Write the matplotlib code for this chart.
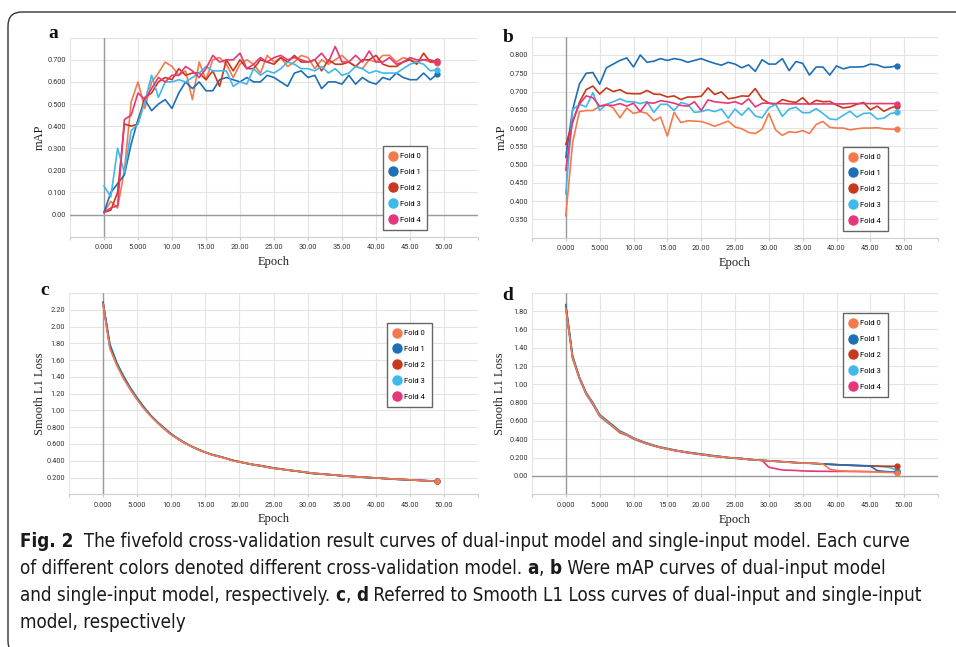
import matplotlib
matplotlib.use("Agg")
import matplotlib.pyplot as plt
import numpy as np
from matplotlib.lines import Line2D
from matplotlib.path import Path
from matplotlib.patches import PathPatch
from matplotlib.transforms import IdentityTransform
from matplotlib import font_manager
from matplotlib.font_manager import FontProperties
from matplotlib.ticker import FuncFormatter, MultipleLocator

W, H = 956, 647

epochs = list(range(50))
fold_names = ["Fold 0", "Fold 1", "Fold 2", "Fold 3", "Fold 4"]
fold_colors = ["#f47a4c", "#1f6fb5", "#c8391b", "#3fb8ea", "#e6377a"]

# panel a: mAP, dual-input model
a_f0 = [0.01, 0.06, 0.03, 0.20, 0.51, 0.60, 0.48, 0.60, 0.64, 0.69, 0.67, 0.63, 0.65, 0.52, 0.69,
        0.61, 0.70, 0.71, 0.68, 0.62, 0.68, 0.70, 0.68, 0.64, 0.72, 0.69, 0.71, 0.67, 0.69, 0.72,
        0.71, 0.66, 0.70, 0.68, 0.70, 0.72, 0.69, 0.67, 0.66, 0.70, 0.69, 0.72, 0.72, 0.69, 0.71,
        0.70, 0.69, 0.70, 0.69, 0.685]
a_f1 = [0.01, 0.10, 0.14, 0.18, 0.32, 0.43, 0.52, 0.47, 0.50, 0.52, 0.48, 0.55, 0.60, 0.57, 0.60,
        0.56, 0.56, 0.61, 0.62, 0.61, 0.60, 0.62, 0.60, 0.60, 0.63, 0.62, 0.60, 0.58, 0.64, 0.65,
        0.62, 0.63, 0.57, 0.60, 0.60, 0.59, 0.63, 0.59, 0.62, 0.60, 0.59, 0.62, 0.61, 0.64, 0.62,
        0.61, 0.61, 0.64, 0.61, 0.635]
a_f2 = [0.01, 0.02, 0.10, 0.41, 0.40, 0.41, 0.53, 0.55, 0.60, 0.62, 0.61, 0.66, 0.63, 0.64, 0.64,
        0.61, 0.65, 0.58, 0.70, 0.65, 0.70, 0.66, 0.66, 0.70, 0.69, 0.68, 0.71, 0.69, 0.72, 0.69,
        0.69, 0.70, 0.65, 0.70, 0.68, 0.68, 0.69, 0.67, 0.70, 0.70, 0.72, 0.68, 0.67, 0.67, 0.69,
        0.70, 0.68, 0.73, 0.69, 0.695]
a_f3 = [0.13, 0.08, 0.30, 0.19, 0.38, 0.41, 0.51, 0.63, 0.53, 0.60, 0.60, 0.61, 0.60, 0.62, 0.64,
        0.67, 0.65, 0.65, 0.65, 0.58, 0.60, 0.59, 0.66, 0.63, 0.65, 0.64, 0.66, 0.69, 0.68, 0.66,
        0.66, 0.65, 0.67, 0.64, 0.66, 0.63, 0.64, 0.67, 0.66, 0.64, 0.65, 0.64, 0.64, 0.64, 0.66,
        0.68, 0.69, 0.68, 0.65, 0.655]
a_f4 = [0.01, 0.03, 0.04, 0.43, 0.45, 0.55, 0.52, 0.57, 0.62, 0.60, 0.63, 0.63, 0.67, 0.65, 0.62,
        0.66, 0.72, 0.69, 0.70, 0.70, 0.73, 0.66, 0.68, 0.71, 0.69, 0.71, 0.72, 0.70, 0.71, 0.70,
        0.69, 0.70, 0.73, 0.69, 0.76, 0.69, 0.69, 0.72, 0.69, 0.74, 0.69, 0.69, 0.71, 0.68, 0.69,
        0.71, 0.70, 0.70, 0.70, 0.69]

# panel b: mAP, single-input model
b_f0 = [0.36, 0.56, 0.645, 0.648, 0.648, 0.66, 0.665, 0.655, 0.628, 0.655, 0.64, 0.645, 0.64, 0.62,
        0.63, 0.578, 0.643, 0.615, 0.62, 0.619, 0.618, 0.612, 0.605, 0.612, 0.619, 0.603, 0.598,
        0.588, 0.585, 0.597, 0.64, 0.595, 0.58, 0.59, 0.588, 0.593, 0.585, 0.61, 0.618, 0.602, 0.60,
        0.60, 0.595, 0.598, 0.60, 0.60, 0.601, 0.598, 0.597, 0.597]
b_f1 = [0.52, 0.65, 0.72, 0.75, 0.752, 0.72, 0.765, 0.775, 0.785, 0.792, 0.767, 0.80, 0.78, 0.783,
        0.79, 0.785, 0.79, 0.787, 0.78, 0.785, 0.79, 0.783, 0.777, 0.772, 0.78, 0.775, 0.765, 0.773,
        0.755, 0.787, 0.775, 0.775, 0.79, 0.757, 0.782, 0.777, 0.745, 0.767, 0.767, 0.745, 0.77,
        0.762, 0.767, 0.767, 0.768, 0.775, 0.773, 0.766, 0.767, 0.771]
b_f2 = [0.555, 0.615, 0.67, 0.705, 0.715, 0.693, 0.71, 0.70, 0.705, 0.695, 0.694, 0.694, 0.703,
        0.693, 0.692, 0.685, 0.688, 0.678, 0.685, 0.685, 0.687, 0.71, 0.692, 0.699, 0.68, 0.683,
        0.688, 0.687, 0.708, 0.68, 0.668, 0.665, 0.678, 0.673, 0.67, 0.683, 0.665, 0.676, 0.672,
        0.673, 0.663, 0.655, 0.658, 0.665, 0.67, 0.65, 0.66, 0.646, 0.655, 0.661]
b_f3 = [0.42, 0.65, 0.665, 0.658, 0.697, 0.648, 0.665, 0.672, 0.68, 0.672, 0.672, 0.667, 0.672,
        0.643, 0.665, 0.665, 0.648, 0.67, 0.665, 0.643, 0.645, 0.65, 0.645, 0.652, 0.627, 0.652,
        0.635, 0.655, 0.633, 0.628, 0.655, 0.665, 0.632, 0.652, 0.657, 0.642, 0.642, 0.653, 0.64,
        0.625, 0.623, 0.635, 0.646, 0.63, 0.64, 0.641, 0.625, 0.627, 0.64, 0.643]
b_f4 = [0.485, 0.62, 0.665, 0.688, 0.683, 0.66, 0.663, 0.662, 0.667, 0.66, 0.668, 0.645, 0.67,
        0.668, 0.675, 0.672, 0.668, 0.662, 0.66, 0.672, 0.648, 0.677, 0.672, 0.67, 0.668, 0.672,
        0.665, 0.68, 0.658, 0.668, 0.668, 0.667, 0.667, 0.666, 0.666, 0.666, 0.666, 0.666, 0.666,
        0.666, 0.666, 0.666, 0.667, 0.667, 0.667, 0.667, 0.667, 0.667, 0.667, 0.667]

# panel c: Smooth L1 loss, dual-input model
c_f0 = [2.27, 1.74, 1.54, 1.38, 1.25, 1.13, 1.02, 0.93, 0.85, 0.78, 0.71, 0.66, 0.61, 0.57, 0.53,
        0.50, 0.47, 0.45, 0.43, 0.40, 0.385, 0.37, 0.355, 0.34, 0.325, 0.31, 0.30, 0.29, 0.28, 0.27,
        0.26, 0.25, 0.243, 0.236, 0.229, 0.222, 0.216, 0.21, 0.205, 0.20, 0.195, 0.19, 0.185, 0.18,
        0.176, 0.172, 0.168, 0.164, 0.16, 0.155]
c_f1 = [2.29, 1.79, 1.57, 1.41, 1.27, 1.15, 1.04, 0.94, 0.86, 0.79, 0.72, 0.665, 0.615, 0.57, 0.535,
        0.50, 0.475, 0.455, 0.43, 0.405, 0.385, 0.37, 0.35, 0.34, 0.325, 0.31, 0.305, 0.29, 0.28,
        0.27, 0.255, 0.245, 0.24, 0.235, 0.228, 0.22, 0.215, 0.21, 0.204, 0.198, 0.194, 0.19, 0.184,
        0.178, 0.175, 0.171, 0.167, 0.163, 0.159, 0.155]
c_f2 = [2.28, 1.76, 1.55, 1.39, 1.26, 1.14, 1.03, 0.935, 0.855, 0.785, 0.715, 0.66, 0.61, 0.57,
        0.53, 0.50, 0.47, 0.45, 0.43, 0.405, 0.39, 0.37, 0.355, 0.345, 0.33, 0.315, 0.30, 0.29, 0.28,
        0.27, 0.26, 0.25, 0.244, 0.237, 0.23, 0.223, 0.217, 0.211, 0.205, 0.20, 0.195, 0.19, 0.185,
        0.181, 0.177, 0.172, 0.168, 0.164, 0.16, 0.156]
c_f3 = [2.28, 1.77, 1.56, 1.40, 1.26, 1.14, 1.03, 0.94, 0.855, 0.78, 0.715, 0.66, 0.612, 0.572,
        0.535, 0.502, 0.472, 0.452, 0.43, 0.405, 0.387, 0.37, 0.355, 0.342, 0.327, 0.312, 0.302,
        0.29, 0.281, 0.27, 0.258, 0.248, 0.242, 0.236, 0.229, 0.222, 0.216, 0.21, 0.205, 0.199,
        0.195, 0.19, 0.185, 0.18, 0.176, 0.172, 0.168, 0.164, 0.16, 0.156]
c_f4 = [2.27, 1.75, 1.55, 1.39, 1.25, 1.13, 1.03, 0.935, 0.85, 0.78, 0.71, 0.66, 0.61, 0.57, 0.532,
        0.50, 0.47, 0.45, 0.428, 0.403, 0.385, 0.37, 0.355, 0.341, 0.326, 0.311, 0.301, 0.29, 0.28,
        0.27, 0.259, 0.249, 0.243, 0.236, 0.229, 0.222, 0.216, 0.21, 0.205, 0.2, 0.195, 0.19, 0.185,
        0.18, 0.176, 0.172, 0.168, 0.164, 0.16, 0.155]

# panel d: Smooth L1 loss, single-input model
d_f0 = [1.83, 1.29, 1.07, 0.90, 0.79, 0.66, 0.60, 0.54, 0.48, 0.45, 0.41, 0.38, 0.355, 0.33, 0.31,
        0.295, 0.28, 0.27, 0.255, 0.245, 0.235, 0.225, 0.215, 0.21, 0.20, 0.195, 0.19, 0.18, 0.175,
        0.17, 0.165, 0.16, 0.155, 0.15, 0.145, 0.14, 0.14, 0.135, 0.13, 0.075, 0.06, 0.055, 0.05,
        0.05, 0.048, 0.046, 0.044, 0.04, 0.038, 0.035]
d_f1 = [1.87, 1.31, 1.08, 0.91, 0.80, 0.67, 0.61, 0.55, 0.49, 0.455, 0.415, 0.385, 0.36, 0.335,
        0.315, 0.30, 0.285, 0.27, 0.26, 0.25, 0.24, 0.23, 0.22, 0.21, 0.20, 0.195, 0.19, 0.185, 0.175,
        0.17, 0.165, 0.162, 0.157, 0.152, 0.147, 0.143, 0.14, 0.136, 0.132, 0.128, 0.124, 0.12,
        0.117, 0.114, 0.111, 0.108, 0.06, 0.05, 0.045, 0.042]
d_f2 = [1.84, 1.29, 1.07, 0.90, 0.79, 0.66, 0.60, 0.54, 0.48, 0.45, 0.41, 0.38, 0.355, 0.33, 0.31,
        0.295, 0.28, 0.27, 0.255, 0.245, 0.235, 0.225, 0.215, 0.21, 0.20, 0.195, 0.19, 0.18, 0.175,
        0.17, 0.165, 0.16, 0.155, 0.15, 0.145, 0.14, 0.14, 0.135, 0.13, 0.127, 0.123, 0.12, 0.117,
        0.115, 0.113, 0.111, 0.109, 0.107, 0.106, 0.105]
d_f3 = [1.85, 1.28, 1.06, 0.89, 0.78, 0.65, 0.59, 0.535, 0.475, 0.445, 0.405, 0.375, 0.35, 0.328,
        0.308, 0.293, 0.278, 0.268, 0.253, 0.243, 0.233, 0.223, 0.213, 0.208, 0.198, 0.193, 0.188,
        0.18, 0.175, 0.17, 0.165, 0.16, 0.155, 0.15, 0.145, 0.14, 0.138, 0.134, 0.13, 0.126, 0.122,
        0.119, 0.116, 0.113, 0.11, 0.108, 0.105, 0.10, 0.09, 0.06]
d_f4 = [1.84, 1.30, 1.07, 0.90, 0.78, 0.66, 0.595, 0.535, 0.47, 0.445, 0.405, 0.375, 0.35, 0.33,
        0.31, 0.295, 0.28, 0.265, 0.255, 0.245, 0.235, 0.225, 0.215, 0.21, 0.20, 0.195, 0.19, 0.18,
        0.175, 0.17, 0.095, 0.08, 0.065, 0.063, 0.06, 0.055, 0.053, 0.052, 0.051, 0.05, 0.05, 0.05,
        0.05, 0.049, 0.048, 0.047, 0.046, 0.045, 0.044, 0.043]

panel_a = [a_f0, a_f1, a_f2, a_f3, a_f4]
panel_b = [b_f0, b_f1, b_f2, b_f3, b_f4]
panel_c = [c_f0, c_f1, c_f2, c_f3, c_f4]
panel_d = [d_f0, d_f1, d_f2, d_f3, d_f4]

caption_lines = [
    [("Fig. 2", True), ("  The fivefold cross-validation result curves of dual-input model and single-input model. Each curve", False)],
    [("of different colors denoted different cross-validation model. ", False), ("a", True), (", ", False),
     ("b", True), (" Were mAP curves of dual-input model", False)],
    [("and single-input model, respectively. ", False), ("c", True), (", ", False), ("d", True),
     (" Referred to Smooth L1 Loss curves of dual-input and single-input", False)],
    [("model, respectively", False)],
]

tick_font = "Roboto"
serif_font = "Liberation Serif"


def condensed_props():
    # look for a narrow / condensed sans on the system for the caption
    regular, bold = None, None
    for want in ["Liberation Sans Narrow", "DejaVu Sans Condensed", "Roboto Condensed",
                 "Open Sans Condensed", "Noto Sans Condensed"]:
        for f in font_manager.fontManager.ttflist:
            fname = f.fname.replace(" ", "").lower()
            key = want.replace(" ", "").lower()
            if key in fname and "italic" not in fname and "oblique" not in fname:
                w = f.weight if isinstance(f.weight, int) else (700 if "bold" in str(f.weight) else 400)
                if "bold" in fname or w >= 600:
                    if bold is None and "semi" not in fname and "extra" not in fname:
                        bold = f.fname
                elif regular is None and "light" not in fname and "medium" not in fname:
                    regular = f.fname
        if regular:
            break
        regular, bold = None, None
    return regular, bold


cond_reg, cond_bold = condensed_props()


def cap_prop(size, isbold):
    if cond_reg:
        path = cond_bold if (isbold and cond_bold) else cond_reg
        return FontProperties(fname=path, size=size)
    return FontProperties(family="Open Sans", size=size, weight="bold" if isbold else "normal")


fig = plt.figure(figsize=(W / 100, H / 100), dpi=100)


def px_axes(l, t, r, b):
    return fig.add_axes([l / W, 1 - b / H, (r - l) / W, (b - t) / H])


def style_axes(ax, ylo, yhi, ystep, ylabel, lab_dx):
    ax.set_xlim(-5, 55)
    ax.set_ylim(ylo, yhi)
    ax.xaxis.set_major_locator(MultipleLocator(5))
    ax.yaxis.set_major_locator(MultipleLocator(ystep))
    ax.xaxis.set_major_formatter(FuncFormatter(
        lambda v, p: ("%#.4g" % v) if -0.01 < v < 50.01 else ""))
    ax.yaxis.set_major_formatter(FuncFormatter(
        lambda v, p: "" if (abs(v - ylo) < 1e-6 or abs(v - yhi) < 1e-6) else ("%#.3g" % (0.0 if abs(v) < 1e-9 else v))))
    ax.grid(True, color="#e4e4e4", lw=0.8)
    ax.set_axisbelow(True)
    for s in ["top", "right", "left"]:
        ax.spines[s].set_visible(False)
    ax.spines["bottom"].set_color("#cfcfcf")
    ax.spines["bottom"].set_linewidth(0.8)
    ax.axvline(0, color="#9a9a9a", lw=1.0, zorder=1)
    if ylo < 0 < yhi:
        ax.axhline(0, color="#9a9a9a", lw=1.0, zorder=1)
    ax.tick_params(axis="x", length=2.5, color="#c8c8c8", labelsize=5.3, pad=3, labelcolor="#333333")
    ax.tick_params(axis="y", length=0, labelsize=5.3, pad=3, labelcolor="#333333")
    for lab in ax.get_xticklabels() + ax.get_yticklabels():
        lab.set_family(tick_font)
    ax.set_xlabel("Epoch", family=serif_font, fontsize=9, color="#222222")
    ax.xaxis.set_label_coords(0.5, -0.125)
    ax.xaxis.label.set_va("center")
    ax.set_ylabel(ylabel, family=serif_font, fontsize=9, color="#222222")
    ax.yaxis.set_label_coords(lab_dx, 0.5)
    ax.yaxis.label.set_va("center")


def draw_series(ax, series, order):
    for i in order:
        ys = series[i]
        ax.plot(epochs, ys, color=fold_colors[i], lw=1.2, zorder=3)
        ax.plot(epochs[-1], ys[-1], "o", color=fold_colors[i], ms=3.5, zorder=4)


def add_legend(ax, x, y):
    handles = [Line2D([], [], marker="o", ls="none", color=c, markersize=6.5) for c in fold_colors]
    leg = ax.legend(handles, fold_names, loc="upper left", bbox_to_anchor=(x, y),
                    prop={"family": tick_font, "size": 5.5}, frameon=True, fancybox=False,
                    edgecolor="#666666", facecolor="white", framealpha=1, borderpad=0.9,
                    handlelength=0.8, handletextpad=0.5, labelspacing=1.25, borderaxespad=0)
    leg.get_frame().set_linewidth(1.0)


ax_a = px_axes(70, 37.7, 478, 236.7)
style_axes(ax_a, -0.1, 0.8, 0.1, "mAP", -30 / 408)
draw_series(ax_a, panel_a, [0, 1, 2, 3, 4])
add_legend(ax_a, 0.767, 0.456)

ax_b = px_axes(532, 36.7, 938, 237.7)
style_axes(ax_b, 0.30, 0.85, 0.05, "mAP", -30 / 406)
draw_series(ax_b, panel_b, [0, 1, 2, 3, 4])
add_legend(ax_b, 0.766, 0.451)

ax_c = px_axes(69, 293, 478, 494.3)
style_axes(ax_c, 0.0, 2.4, 0.2, "Smooth L1 Loss", -29 / 409)
draw_series(ax_c, panel_c, [4, 3, 2, 1, 0])
add_legend(ax_c, 0.778, 0.851)

ax_d = px_axes(532, 292.7, 938, 494.3)
style_axes(ax_d, -0.2, 2.0, 0.2, "Smooth L1 Loss", -32 / 406)
draw_series(ax_d, panel_d, [4, 3, 2, 1, 0])
add_legend(ax_d, 0.766, 0.899)

# panel letters
for letter, (lx, ly) in zip("abcd", [(53, 38), (508, 41.5), (45, 295), (508, 300)]):
    fig.text(lx / W, 1 - ly / H, letter, family=serif_font, fontweight="bold", fontsize=14,
             ha="center", va="baseline", color="#111111")

# frame around figure (rounded top-left corner)
r = 14
x0, ytop, ybot = 8, H - 12, H - 655
verts = [(W + 5, ytop), (x0 + r, ytop), (x0, ytop), (x0, ytop - r), (x0, ybot + r), (x0, ybot), (x0 + r, ybot), (W + 5, ybot)]
codes = [Path.MOVETO, Path.LINETO, Path.CURVE3, Path.CURVE3, Path.LINETO, Path.CURVE3, Path.CURVE3, Path.LINETO]
frame = PathPatch(Path(verts, codes), fill=False, edgecolor="#333333", lw=1.0, transform=IdentityTransform())
fig.add_artist(frame)

# caption, drawn run by run so bold parts can be mixed in
renderer = fig.canvas.get_renderer()


def run_width(s, size, isbold):
    prop = cap_prop(size, isbold)
    w1, _, _ = renderer.get_text_width_height_descent("|" + s + "|", prop, ismath=False)
    w2, _, _ = renderer.get_text_width_height_descent("||", prop, ismath=False)
    return w1 - w2


base = 14.0
widest = max(sum(run_width(s, base, b) for s, b in runs) for runs in caption_lines)
cap_size = base * 910 / widest

for k, runs in enumerate(caption_lines):
    x = 20
    y = 547 + 27 * k
    for s, b in runs:
        fig.text(x / W, 1 - y / H, s, fontproperties=cap_prop(cap_size, b),
                 ha="left", va="baseline", color="#1a1a1a")
        x += run_width(s, cap_size, b)

fig.savefig("out.png", dpi=100)
